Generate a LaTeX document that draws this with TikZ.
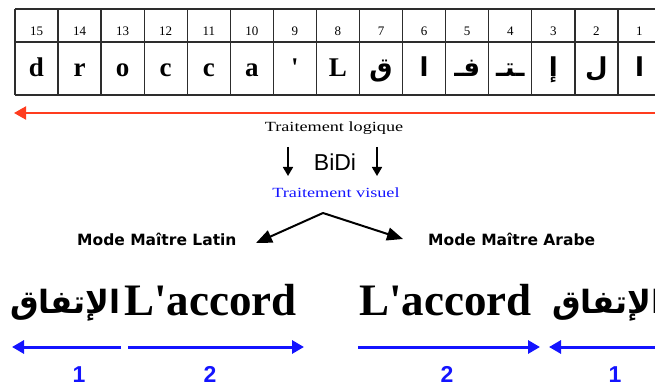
\documentclass[tikz,border=0pt]{standalone}
\usepackage{fontspec}
\usetikzlibrary{arrows.meta}
\setmainfont{Liberation Serif}
\newfontfamily\wideserif[FakeStretch=1.3]{Liberation Serif}
\newfontfamily\plainserif[Ligatures=TeXOff]{Liberation Serif}
\newfontfamily\dvsans{DejaVu Sans}
\newfontfamily\arsans{Liberation Sans}
\newfontfamily\arabicfont[Script=Arabic]{DejaVu Sans}
\TeXXeTstate=1
\definecolor{redline}{RGB}{255,60,30}
\definecolor{myblue}{RGB}{20,20,255}
\definecolor{gridc}{RGB}{45,45,45}
\begin{document}
\begin{tikzpicture}[x=1pt,y=-1pt,
  grid/.style={draw=gridc,line width=1.3pt},
  num/.style={font=\fontsize{13}{13}\selectfont,anchor=base,inner sep=0pt},
  lat/.style={font=\plainserif\bfseries\fontsize{27}{27}\selectfont,anchor=base,inner sep=0pt},
  arl/.style={font=\arabicfont\bfseries\fontsize{26}{26}\selectfont,anchor=base,inner sep=0pt},
  smalltxt/.style={font=\wideserif\fontsize{14}{14}\selectfont,anchor=base,inner sep=0pt},
  modetxt/.style={font=\dvsans\bfseries\fontsize{15.5}{15.5}\selectfont,anchor=base west,inner sep=0pt},
  bigword/.style={font=\plainserif\bfseries\fontsize{45}{45}\selectfont,inner sep=0pt},
  bigarab/.style={font=\arabicfont\bfseries\fontsize{32}{32}\selectfont,inner sep=0pt},
  digit/.style={font=\arsans\bfseries\fontsize{23}{23}\selectfont,text=myblue,anchor=base,inner sep=0pt},
  redarrow/.style={draw=redline,line width=2pt,-{Triangle[length=12pt,width=13pt]}},
  downarrow/.style={draw=black,line width=1.7pt,-{Triangle[length=9pt,width=10pt]}},
  varrow/.style={draw=black,line width=2pt,-{Triangle[length=16pt,width=13pt]}},
  bluearrow/.style={draw=myblue,line width=3pt,-{Triangle[length=12pt,width=13pt]}}
]
\useasboundingbox (0,0) rectangle (655,387);
\clip (0,0) rectangle (655,387);
% table grid
\foreach \i in {0,...,15} \draw[grid] ({15+\i*43.07},9) -- ({15+\i*43.07},95);
\draw[grid] (15,9) -- (662,9);
\draw[grid] (15,42) -- (662,42);
\draw[grid] (15,95) -- (662,95);
% numbers
\foreach \k in {1,...,15} \node[num] (n\k) at ({15+(15-\k)*43.07+21.5},36) {\k};
% latin letters
\foreach \k/\t in {15/d,14/r,13/o,12/c,11/c,10/a,9/',8/L}
  \node[lat] (c\k) at ({15+(15-\k)*43.07+21.5},77) {\t};
% arabic letters
\node[arl] (c7) at ({15+8*43.07+21.5},77) {\beginR ق\endR};
\node[arl] (c6) at ({15+9*43.07+21.5},77) {\beginR ا\endR};
\node[arl] (c5) at ({15+10*43.07+21.5},77) {\beginR فـ\endR};
\node[arl] (c4) at ({15+11*43.07+21.5},77) {\beginR ـتـ\endR};
\node[arl] (c3) at ({15+12*43.07+21.5},77) {\beginR إ\endR};
\node[arl] (c2) at ({15+13*43.07+21.5},77) {\beginR ل\endR};
\node[arl] (c1) at ({15+14*43.07+21.5},77) {\beginR ا\endR};
% red arrow
\coordinate (rs) at (656,113);
\coordinate (re) at (14,113);
\draw[redarrow] (rs) -- (re);
% middle texts
\node[smalltxt] (logique) at (334,132) {Traitement logique};
\node[font=\arsans\fontsize{23}{23}\selectfont,anchor=base,inner sep=0pt] (bidi) at (335,171) {BiDi};
\node[smalltxt,text=myblue] (visuel) at (336,198) {Traitement visuel};
\coordinate (dla) at (288,147); \coordinate (dlb) at (288,176);
\coordinate (dra) at (377,147); \coordinate (drb) at (377,176);
\draw[downarrow] (dla) -- (dlb);
\draw[downarrow] (dra) -- (drb);
% modes
\node[modetxt] (latin) at (77,245) {Mode Maître Latin};
\node[modetxt] (arabe) at (428,245) {Mode Maître Arabe};
\coordinate (apex) at (323,213);
\coordinate (tipL) at (256,243);
\coordinate (tipR) at (403,239);
\draw[varrow] (apex) -- (tipL);
\draw[varrow] (apex) -- (tipR);
% bottom left
\node[bigarab,anchor=base east] (arL) at (121,313) {\beginR الإتفاق\endR};
\node[bigword,anchor=base west] (acL) at (124,315) {L'accord};
% bottom right
\node[bigword,anchor=base west] (acR) at (359,315) {L'accord};
\node[bigarab,anchor=base west] (arR) at (552,313) {\beginR الإتفاق\endR};
% blue arrows
\coordinate (b1s) at (121,347); \coordinate (b1e) at (12,347);
\coordinate (b2s) at (128,347); \coordinate (b2e) at (304,347);
\coordinate (b3s) at (358,347); \coordinate (b3e) at (540,347);
\coordinate (b4s) at (662,347); \coordinate (b4e) at (549,347);
\draw[bluearrow] (b1s) -- (b1e);
\draw[bluearrow] (b2s) -- (b2e);
\draw[bluearrow] (b3s) -- (b3e);
\draw[bluearrow] (b4s) -- (b4e);
\node[digit] (d1) at (79,382) {1};
\node[digit] (d2) at (210,382) {2};
\node[digit] (d3) at (447,382) {2};
\node[digit] (d4) at (615,382) {1};
\end{tikzpicture}
\end{document}
